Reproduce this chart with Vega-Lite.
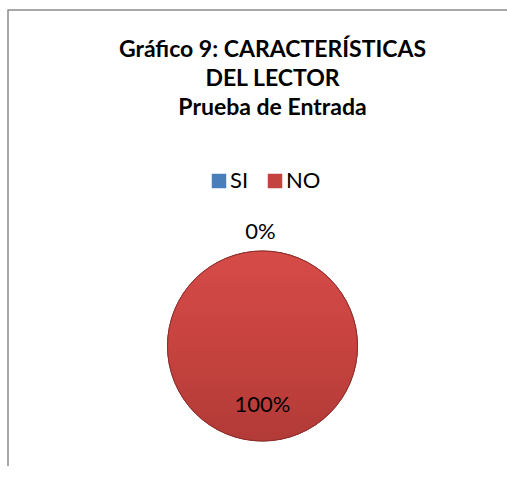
{
  "$schema": "https://vega.github.io/schema/vega-lite/v6.json",
  "width": 509,
  "height": 672,
  "padding": {"left": 8, "top": 10, "right": -10, "bottom": -216},
  "autosize": {"type": "none"},
  "background": "white",
  "view": {"stroke": "#8c8c8c", "strokeWidth": 1.5},
  "config": {"font": "Lato"},
  "title": {
    "text": ["Gráfico 9: CARACTERÍSTICAS", "DEL LECTOR", "Prueba de Entrada"],
    "font": "Lato",
    "fontSize": 23,
    "fontWeight": "bold",
    "color": "#000000",
    "lineHeight": 29,
    "anchor": "middle",
    "baseline": "alphabetic",
    "offset": 0,
    "dy": 128,
    "dx": 10
  },
  "data": {
    "values": [
      {"respuesta": "SI", "porcentaje": 0, "etiqueta": "0%"},
      {"respuesta": "NO", "porcentaje": 100, "etiqueta": "100%"}
    ]
  },
  "encoding": {
    "theta": {"field": "porcentaje", "type": "quantitative", "stack": true}
  },
  "layer": [
    {
      "mark": {"type": "arc", "outerRadius": 95, "stroke": "#8e2f2d", "strokeWidth": 1},
      "encoding": {
        "color": {
          "field": "respuesta",
          "type": "nominal",
          "scale": {"domain": ["SI", "NO"], "range": ["#4A7EBB", "#C4423F"]},
          "legend": {
            "orient": "none",
            "legendX": 200,
            "legendY": 160,
            "direction": "horizontal",
            "title": null,
            "symbolType": "square",
            "symbolSize": 210,
            "symbolStrokeWidth": 0,
            "labelFont": "Lato",
            "labelFontSize": 22,
            "labelColor": "#000000",
            "columnPadding": 15,
            "labelOffset": 0,
            "padding": 0
          }
        }
      }
    },
    {
      "transform": [{"filter": "datum.respuesta === 'NO'"}],
      "mark": {
        "type": "arc",
        "outerRadius": 95,
        "stroke": "#8e2f2d",
        "strokeWidth": 1,
        "fill": {
          "gradient": "linear",
          "x1": 0, "y1": 0, "x2": 0, "y2": 1,
          "stops": [
            {"offset": 0, "color": "#D64B48"},
            {"offset": 0.5, "color": "#C6433F"},
            {"offset": 1, "color": "#B23A37"}
          ]
        }
      }
    },
    {
      "transform": [{"filter": "datum.respuesta === 'SI'"}],
      "mark": {"type": "text", "radius": 114, "fontSize": 22, "font": "Lato", "color": "#000000", "dx": -2},
      "encoding": {"text": {"field": "etiqueta"}}
    },
    {
      "transform": [{"filter": "datum.respuesta === 'NO'"}],
      "mark": {"type": "text", "radius": 59, "fontSize": 22, "font": "Lato", "color": "#000000"},
      "encoding": {"text": {"field": "etiqueta"}}
    }
  ]
}
